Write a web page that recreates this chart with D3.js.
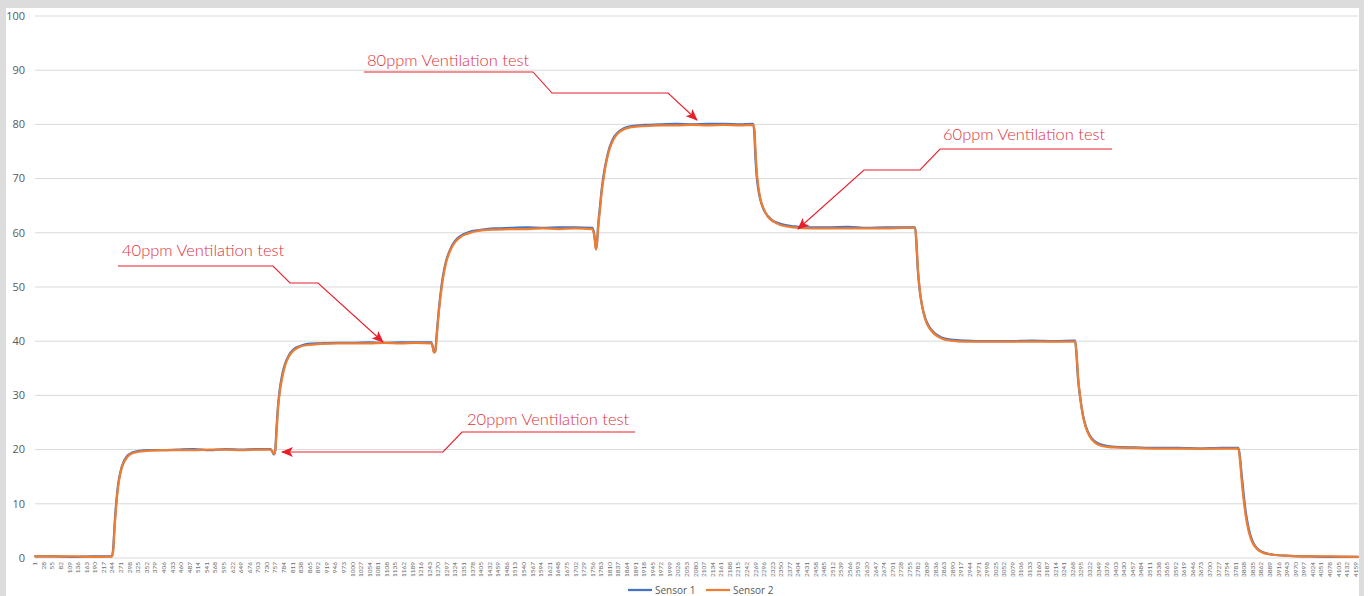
<!DOCTYPE html>
<html><head><meta charset="utf-8">
<script src="https://cdn.jsdelivr.net/npm/d3@7"></script>
<style>body{margin:0;background:#fff;}svg{display:block;}</style>
</head><body>
<script>
// ---- data ----
const categoryCount = 4166;
const labelStart = 1, labelStep = 27;
const tickLabels = d3.range(labelStart, 4160, labelStep);
const yTicks = [0,10,20,30,40,50,60,70,80,90,100];
const seriesNames = ["Sensor 1","Sensor 2"];
const seriesColors = ["#4472C4","#ED7D31"];
const sampleIdx = [1,60,120,180,243,247,251,256,262,270,280,292,305,325,360,400,450,500,550,600,650,700,742,748,753,757,761,765,771,779,789,800,815,835,860,900,950,1000,1050,1100,1150,1200,1248,1253,1257,1261,1265,1270,1277,1285,1295,1307,1322,1340,1365,1400,1450,1500,1550,1600,1650,1700,1755,1760,1764,1767,1770,1774,1779,1785,1792,1800,1810,1822,1837,1855,1880,1920,1970,2020,2070,2120,2170,2220,2262,2266,2269,2273,2278,2285,2295,2308,2325,2350,2390,2440,2500,2560,2620,2680,2740,2772,2776,2780,2786,2794,2804,2817,2833,2855,2885,2930,3000,3070,3140,3210,3276,3280,3285,3292,3300,3310,3322,3338,3360,3400,3460,3530,3600,3670,3740,3790,3795,3800,3806,3813,3822,3833,3848,3870,3900,3950,4000,4080,4166];
const sensor1 = [0.3,0.3,0.2,0.3,0.3,2,6,10,13.5,16,17.8,18.9,19.4,19.7,19.9,19.9,20.0,20.1,19.9,20.1,20.0,20.1,20.1,19.6,19.1,19.8,24,27.5,31,33.8,36,37.4,38.5,39.1,39.5,39.6,39.7,39.7,39.8,39.7,39.8,39.8,39.8,39.0,38.0,38.2,41,44.5,48.5,52,54.8,56.8,58.4,59.4,60.1,60.5,60.8,60.9,61.0,60.9,61.0,61.0,60.9,60.2,58.5,57.0,58.0,61.5,64.5,68,71,73.5,75.8,77.5,78.6,79.3,79.7,79.9,80.0,80.1,80.0,80.1,80.1,80.0,80.1,78,74,70.5,68,66,64.3,63.1,62.2,61.6,61.2,61.0,61.0,61.1,60.9,61.0,61.0,61.0,58,53.5,49.5,46.5,44.2,42.6,41.5,40.7,40.3,40.1,40.0,40.0,40.1,40.0,40.1,37.5,33,29.5,26.5,24.2,22.6,21.5,20.9,20.5,20.4,20.3,20.3,20.2,20.3,20.3,18.5,15.5,12,8.5,5.5,3.3,1.8,1.0,0.6,0.4,0.3,0.2,0.2];
const sensor2 = [0.3,0.3,0.3,0.2,0.3,1.5,5.5,9.5,13,15.8,17.6,18.7,19.3,19.6,19.8,19.9,19.9,19.9,20.0,20.0,19.9,20.0,20.0,19.6,19.2,19.9,23,27,30.5,33.3,35.7,37.2,38.3,39.0,39.3,39.5,39.6,39.6,39.6,39.7,39.6,39.7,39.6,38.9,37.9,38.1,40.5,44,48,51.5,54.5,56.6,58.2,59.2,59.9,60.4,60.6,60.7,60.7,60.8,60.7,60.8,60.7,60.0,58.3,56.9,58.1,61,64,67.5,70.5,73.2,75.5,77.2,78.4,79.1,79.5,79.7,79.8,79.8,79.9,79.8,79.9,79.8,79.9,79,75.5,71.5,68.6,66.2,64.4,63.0,62.1,61.4,61.0,60.8,60.8,60.8,60.8,60.8,60.9,60.9,58.5,54,49.8,46.5,44.0,42.4,41.3,40.5,40.1,39.9,39.9,39.9,39.9,39.9,39.9,38,33.5,29.5,26.3,24.0,22.4,21.3,20.7,20.4,20.3,20.2,20.2,20.2,20.2,20.2,18,14.5,11,7.8,5.0,3.0,1.7,0.9,0.6,0.4,0.3,0.3,0.2];
const annotations = [
  {text:"80ppm Ventilation test", tx:367, ty:66, path:[[364,72],[533,72],[552,93],[668,93],[697,120]]},
  {text:"60ppm Ventilation test", tx:943, ty:140, path:[[1112,149],[940,149],[920,170],[864,170],[798,229]]},
  {text:"40ppm Ventilation test", tx:122, ty:256, path:[[118,266],[273,266],[290,283],[318,283],[383,342]]},
  {text:"20ppm Ventilation test", tx:467, ty:425, path:[[635,432],[462,432],[443,452],[282,452]]}
];

// ---- drawing ----
const W = 1369, H = 596;
const svg = d3.select("body").append("svg").attr("width", W).attr("height", H);
// frame
svg.append("rect").attr("x",0).attr("y",0).attr("width",1364).attr("height",H).attr("fill","#dcdcdc");
svg.append("rect").attr("x",6).attr("y",8).attr("width",1353).attr("height",H).attr("fill","#fff");

const mLeft = 35, mRight = 1358, mTop = 16, mBottom = 558;
const x = d3.scaleLinear().domain([0.5, categoryCount + 0.5]).range([mLeft, mRight]);
const y = d3.scaleLinear().domain([0, 100]).range([mBottom, mTop]);

// gridlines
svg.append("g").selectAll("line").data(yTicks).join("line")
  .attr("x1", mLeft).attr("x2", mRight)
  .attr("y1", d => y(d)).attr("y2", d => y(d))
  .attr("stroke", "#d9d9d9").attr("stroke-width", 1);

// y labels
svg.append("g").selectAll("text").data(yTicks).join("text")
  .attr("x", 25).attr("y", d => y(d)).attr("dy", "0.35em")
  .attr("text-anchor", "end")
  .attr("font-family", "'Open Sans', Lato, sans-serif").attr("font-size", 11)
  .attr("fill", "#595959").text(d => d);

// x labels
svg.append("g").selectAll("text").data(tickLabels).join("text")
  .attr("transform", d => `translate(${x(d)},562) rotate(-90)`)
  .attr("dy", "0.33em").attr("text-anchor", "end")
  .attr("font-family", "Lato, 'Open Sans', sans-serif").attr("font-size", 6.5)
  .attr("fill", "#6a6a6a").text(d => d);

// lines
const line = d3.line().x(d => x(d[0])).y(d => y(d[1])).curve(d3.curveMonotoneX);
[sensor1, sensor2].forEach((s, k) => {
  svg.append("path").datum(sampleIdx.map((i, j) => [i, s[j]]))
    .attr("d", line).attr("fill", "none")
    .attr("stroke", seriesColors[k]).attr("stroke-width", 2.25)
    .attr("stroke-linejoin", "round").attr("stroke-linecap", "round");
});

// annotations
const defs = svg.append("defs");
defs.append("marker").attr("id", "arr").attr("viewBox", "0 0 12 10")
  .attr("refX", 11).attr("refY", 5).attr("markerWidth", 12).attr("markerHeight", 10)
  .attr("markerUnits", "userSpaceOnUse").attr("orient", "auto")
  .append("path").attr("d", "M0,0 L12,5 L0,10 L3,5 Z").attr("fill", "#E81E2A");
annotations.forEach(a => {
  svg.append("path").attr("d", d3.line()(a.path)).attr("fill", "none")
    .attr("stroke", "#E81E2A").attr("stroke-width", 1.1).attr("marker-end", "url(#arr)");
  svg.append("text").attr("x", a.tx).attr("y", a.ty)
    .attr("font-family", "Lato, 'Open Sans', sans-serif").attr("font-size", 16.5)
    .attr("font-weight", 300)
    .attr("fill", "#E0303C").text(a.text);
});

// legend
const lg = svg.append("g").attr("font-family", "'Open Sans', Lato, sans-serif").attr("font-size", 10).attr("fill", "#595959");
const legendX = [628, 706];
seriesNames.forEach((n, k) => {
  lg.append("line").attr("x1", legendX[k]).attr("x2", legendX[k] + 24).attr("y1", 590).attr("y2", 590)
    .attr("stroke", seriesColors[k]).attr("stroke-width", 2.25);
  lg.append("text").attr("x", legendX[k] + 27).attr("y", 590).attr("dy", "0.35em").text(n);
});
</script>
</body></html>
